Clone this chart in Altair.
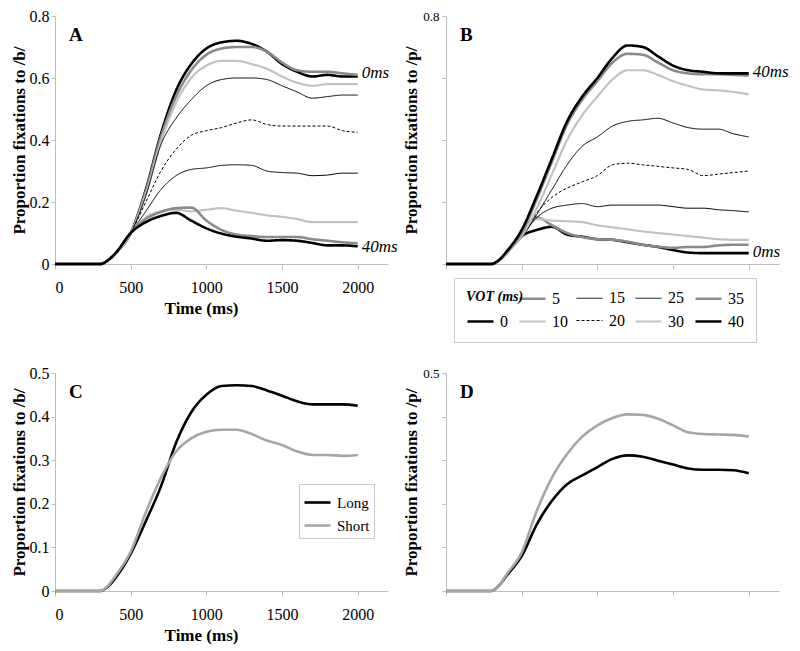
import altair as alt
import pandas as pd

SERIF = "Liberation Serif"

TIME = [0, 300, 350, 400, 500, 600, 700, 800, 900, 1000, 1100, 1200, 1300,
        1400, 1500, 1600, 1700, 1800, 1900, 2000]
X_TICKS = [0, 500, 1000, 1500, 2000]
VOT_LEVELS = [0, 5, 10, 15, 20, 25, 30, 35, 40]

# Panel A: proportion of fixations to /b/ by VOT
A0 = [0, 0, 0.012, 0.035, 0.1, 0.24, 0.42, 0.56, 0.645, 0.695, 0.715, 0.72, 0.71, 0.685, 0.645, 0.62, 0.605, 0.61, 0.605, 0.605]
A5 = [0, 0, 0.012, 0.035, 0.1, 0.235, 0.41, 0.54, 0.625, 0.675, 0.695, 0.70, 0.70, 0.685, 0.65, 0.625, 0.62, 0.62, 0.615, 0.61]
A10 = [0, 0, 0.01, 0.033, 0.1, 0.225, 0.395, 0.52, 0.60, 0.64, 0.655, 0.655, 0.645, 0.63, 0.605, 0.585, 0.575, 0.58, 0.58, 0.58]
A15 = [0, 0, 0.012, 0.035, 0.1, 0.22, 0.385, 0.47, 0.53, 0.575, 0.595, 0.60, 0.60, 0.595, 0.575, 0.555, 0.535, 0.54, 0.545, 0.545]
A20 = [0, 0, 0.012, 0.035, 0.1, 0.2, 0.3, 0.37, 0.415, 0.43, 0.44, 0.455, 0.465, 0.45, 0.445, 0.445, 0.445, 0.445, 0.43, 0.425]
A25 = [0, 0, 0.012, 0.035, 0.1, 0.17, 0.24, 0.285, 0.305, 0.31, 0.318, 0.32, 0.318, 0.30, 0.295, 0.293, 0.285, 0.287, 0.293, 0.293]
A30 = [0, 0, 0.01, 0.033, 0.1, 0.15, 0.17, 0.175, 0.17, 0.175, 0.18, 0.172, 0.165, 0.157, 0.152, 0.145, 0.135, 0.135, 0.135, 0.135]
A35 = [0, 0, 0.012, 0.035, 0.1, 0.145, 0.168, 0.18, 0.182, 0.14, 0.11, 0.095, 0.09, 0.087, 0.087, 0.087, 0.08, 0.075, 0.07, 0.067]
A40 = [0, 0, 0.012, 0.035, 0.1, 0.135, 0.155, 0.165, 0.14, 0.115, 0.098, 0.088, 0.082, 0.075, 0.077, 0.075, 0.068, 0.06, 0.06, 0.057]

# Panel B: proportion of fixations to /p/ by VOT
B0 = [0, 0, 0.012, 0.035, 0.09, 0.11, 0.12, 0.095, 0.088, 0.08, 0.078, 0.07, 0.062, 0.055, 0.045, 0.037, 0.035, 0.035, 0.035, 0.035]
B5 = [0, 0, 0.012, 0.035, 0.1, 0.15, 0.125, 0.1, 0.087, 0.08, 0.078, 0.072, 0.062, 0.056, 0.052, 0.055, 0.055, 0.06, 0.062, 0.062]
B10 = [0, 0, 0.012, 0.035, 0.1, 0.145, 0.14, 0.138, 0.135, 0.125, 0.118, 0.112, 0.105, 0.1, 0.095, 0.09, 0.085, 0.08, 0.078, 0.078]
B15 = [0, 0, 0.012, 0.035, 0.09, 0.15, 0.18, 0.19, 0.195, 0.185, 0.19, 0.19, 0.19, 0.19, 0.185, 0.18, 0.18, 0.175, 0.172, 0.168]
B20 = [0, 0, 0.012, 0.035, 0.09, 0.165, 0.215, 0.245, 0.265, 0.285, 0.32, 0.325, 0.32, 0.315, 0.31, 0.305, 0.285, 0.29, 0.295, 0.3]
B25 = [0, 0, 0.012, 0.035, 0.085, 0.16, 0.24, 0.32, 0.38, 0.41, 0.445, 0.46, 0.465, 0.47, 0.455, 0.44, 0.435, 0.435, 0.42, 0.41]
B30 = [0, 0, 0.012, 0.035, 0.09, 0.18, 0.29, 0.4, 0.48, 0.54, 0.595, 0.625, 0.625, 0.61, 0.59, 0.575, 0.563, 0.56, 0.555, 0.547]
B35 = [0, 0, 0.012, 0.037, 0.1, 0.21, 0.33, 0.45, 0.53, 0.59, 0.65, 0.678, 0.675, 0.65, 0.625, 0.615, 0.612, 0.612, 0.61, 0.608]
B40 = [0, 0, 0.013, 0.04, 0.11, 0.22, 0.34, 0.46, 0.54, 0.6, 0.665, 0.705, 0.70, 0.67, 0.64, 0.625, 0.62, 0.615, 0.615, 0.615]

# Panels C and D: Long vs Short
GROUPS = ["Long", "Short"]
C_LONG = [0, 0, 0.01, 0.03, 0.085, 0.16, 0.24, 0.34, 0.41, 0.45, 0.47, 0.472, 0.47, 0.46, 0.448, 0.435, 0.428, 0.428, 0.428, 0.425]
C_SHORT = [0, 0, 0.012, 0.035, 0.09, 0.18, 0.26, 0.32, 0.35, 0.365, 0.37, 0.37, 0.36, 0.345, 0.335, 0.32, 0.312, 0.312, 0.31, 0.312]
D_LONG = [0, 0, 0.012, 0.035, 0.08, 0.153, 0.207, 0.245, 0.265, 0.284, 0.303, 0.311, 0.308, 0.299, 0.29, 0.281, 0.278, 0.278, 0.277, 0.27]
D_SHORT = [0, 0, 0.012, 0.038, 0.088, 0.184, 0.26, 0.314, 0.354, 0.38, 0.397, 0.405, 0.404, 0.395, 0.38, 0.364, 0.36, 0.359, 0.358, 0.354]

# End-of-line annotations
A_END_TEXT = ["0ms", "40ms"]
A_END_VAL = [0.615, 0.055]
B_END_TEXT = ["40ms", "0ms"]
B_END_VAL = [0.62, 0.04]

PANEL_LETTERS = ["A", "B", "C", "D"]

# ---- styles (legend order: blank cell, then row 1, then row 2) ----
LEG_DOMAIN = [-1, 5, 15, 25, 35, 0, 10, 20, 30, 40]
BLACK, MID, LIGHT = "#000000", "#8a8a8a", "#c2c2c2"
STYLE = {
    -1: ("transparent", 0, [1, 0]),
    0: (BLACK, 2.6, [1, 0]),
    5: (MID, 2.6, [1, 0]),
    10: (LIGHT, 2.2, [1, 0]),
    15: (BLACK, 1, [1, 0]),
    20: (BLACK, 1, [3, 2]),
    25: (BLACK, 1, [1, 0]),
    30: (LIGHT, 2.2, [1, 0]),
    35: (MID, 2.6, [1, 0]),
    40: (BLACK, 2.6, [1, 0]),
}
COLOR_RANGE = [STYLE[v][0] for v in LEG_DOMAIN]
WIDTH_RANGE = [STYLE[v][1] for v in LEG_DOMAIN]
DASH_RANGE = [STYLE[v][2] for v in LEG_DOMAIN]

W = 333
H_TOP = 248
H_BOT = 218


def long_df(keys, series, keyname):
    rows = []
    for k, vals in zip(keys, series):
        for t, y in zip(TIME, vals):
            rows.append({keyname: k, "time": t, "value": y})
    return pd.DataFrame(rows)


def x_axis(show_labels):
    if show_labels:
        return alt.Axis(values=X_TICKS, format="d", title="Time (ms)", labelPadding=10,
                        titlePadding=5, titleX=146)
    return alt.Axis(values=X_TICKS, labels=False, title=None)


def y_axis(title, ticks, small_top):
    if small_top is None:
        return alt.Axis(values=ticks, format="~g", title=title, tickSize=4,
                        labelPadding=2, titlePadding=1)
    return alt.Axis(values=ticks, title=title, tickSize=4, labelPadding=3,
                    titlePadding=2, labelFontSize=13,
                    labelExpr=f"datum.value > {small_top - 0.05} ? '{small_top}' : ''")


def letter_layer(t):
    return alt.Chart(pd.DataFrame({"letter": [t]})).mark_text(
        align="left", baseline="alphabetic", font=SERIF, fontSize=19,
        fontWeight="bold", color="black"
    ).encode(x=alt.value(14), y=alt.value(25), text="letter:N")


def vot_panel(series, ytitle, let, end_text, end_val, show_x, small_top, legend):
    df = long_df(VOT_LEVELS, series, "VOT")
    x = alt.X("time:Q", scale=alt.Scale(domain=[0, 2200], nice=False), axis=x_axis(show_x))
    y = alt.Y("value:Q", scale=alt.Scale(domain=[0, 0.8], nice=False),
              axis=y_axis(ytitle, [i / 10 for i in range(9)], small_top))
    lines = alt.Chart(df).mark_line(interpolate="monotone").encode(
        x=x, y=y,
        color=alt.Color("VOT:O", scale=alt.Scale(domain=LEG_DOMAIN, range=COLOR_RANGE),
                        legend=legend),
        strokeWidth=alt.StrokeWidth("VOT:O", scale=alt.Scale(type="ordinal", domain=LEG_DOMAIN,
                                                             range=WIDTH_RANGE),
                                    legend=None if legend is None else alt.Legend()),
        strokeDash=alt.StrokeDash("VOT:O", scale=alt.Scale(domain=LEG_DOMAIN, range=DASH_RANGE),
                                  legend=None if legend is None else alt.Legend()),
    )
    tdf = pd.DataFrame({"label": end_text, "time": [2000] * len(end_text), "value": end_val})
    texts = alt.Chart(tdf).mark_text(align="left", baseline="middle", dx=4, font=SERIF,
                                     fontSize=17, fontStyle="italic", color="black").encode(
        x="time:Q", y="value:Q", text="label:N")
    return alt.layer(lines, texts, letter_layer(let)).properties(width=W, height=H_TOP)


def group_panel(long_vals, short_vals, ytitle, let, show_x, small_top, legend):
    df = long_df(GROUPS, [long_vals, short_vals], "group")
    x = alt.X("time:Q", scale=alt.Scale(domain=[0, 2200], nice=False), axis=x_axis(show_x))
    y = alt.Y("value:Q", scale=alt.Scale(domain=[0, 0.5], nice=False),
              axis=y_axis(ytitle, [i / 10 for i in range(6)], small_top))
    lines = alt.Chart(df).mark_line(interpolate="monotone", strokeWidth=2.6).encode(
        x=x, y=y,
        color=alt.Color("group:N", scale=alt.Scale(domain=GROUPS, range=[BLACK, "#a6a6a6"]),
                        legend=legend),
    )
    return alt.layer(lines, letter_layer(let)).properties(width=W, height=H_BOT)


legend_B = alt.Legend(
    orient="none", legendX=8, legendY=262, direction="horizontal", columns=5,
    title="VOT (ms)", titleOrient="top", titleAnchor="start", titlePadding=-20,
    titleFont=SERIF, titleFontSize=14, titleFontStyle="italic", titleFontWeight="bold",
    titleColor="black",
    labelFont=SERIF, labelFontSize=16, labelColor="black", labelOffset=5,
    labelExpr="datum.value == -1 ? '' : datum.label",
    symbolType="stroke", symbolSize=676, columnPadding=6, rowPadding=-14,
    padding=12, strokeColor="#c8c8c8", fillColor="white",
)

legend_C = alt.Legend(
    orient="none", legendX=244, legendY=111, direction="vertical", title=None,
    labelFont=SERIF, labelFontSize=15, labelColor="black", labelOffset=5,
    symbolType="stroke", symbolSize=676, symbolStrokeWidth=2.6, rowPadding=-5,
    padding=4, strokeColor="#c8c8c8", fillColor="white",
)

A = vot_panel([A0, A5, A10, A15, A20, A25, A30, A35, A40], "Proportion fixations to /b/",
              PANEL_LETTERS[0], A_END_TEXT, A_END_VAL, True, None, None)
B = vot_panel([B0, B5, B10, B15, B20, B25, B30, B35, B40], "Proportion fixations to /p/",
              PANEL_LETTERS[1], B_END_TEXT, B_END_VAL, False, 0.8, legend_B)
C = group_panel(C_LONG, C_SHORT, "Proportion fixations to /b/", PANEL_LETTERS[2], True, None,
                legend_C)
D = group_panel(D_LONG, D_SHORT, "Proportion fixations to /p/", PANEL_LETTERS[3], False, 0.5,
                None)

chart = alt.concat(
    A, B, C, D, columns=2, spacing={"row": 109, "column": 58}, bounds="flush"
).resolve_scale(
    color="independent", strokeWidth="independent", strokeDash="independent",
    x="independent", y="independent"
).properties(
    padding={"left": 2, "top": 0, "right": 0, "bottom": 2}
).configure_view(stroke=None).configure_axis(
    grid=False, domainColor="#bdbdbd", tickColor="#bdbdbd", tickSize=5,
    labelFont=SERIF, labelFontSize=16, labelColor="black",
    titleFont=SERIF, titleFontSize=17, titleFontWeight="bold", titleColor="black",
)

chart.save("out.html", embed_options={"renderer": "svg", "actions": False})
